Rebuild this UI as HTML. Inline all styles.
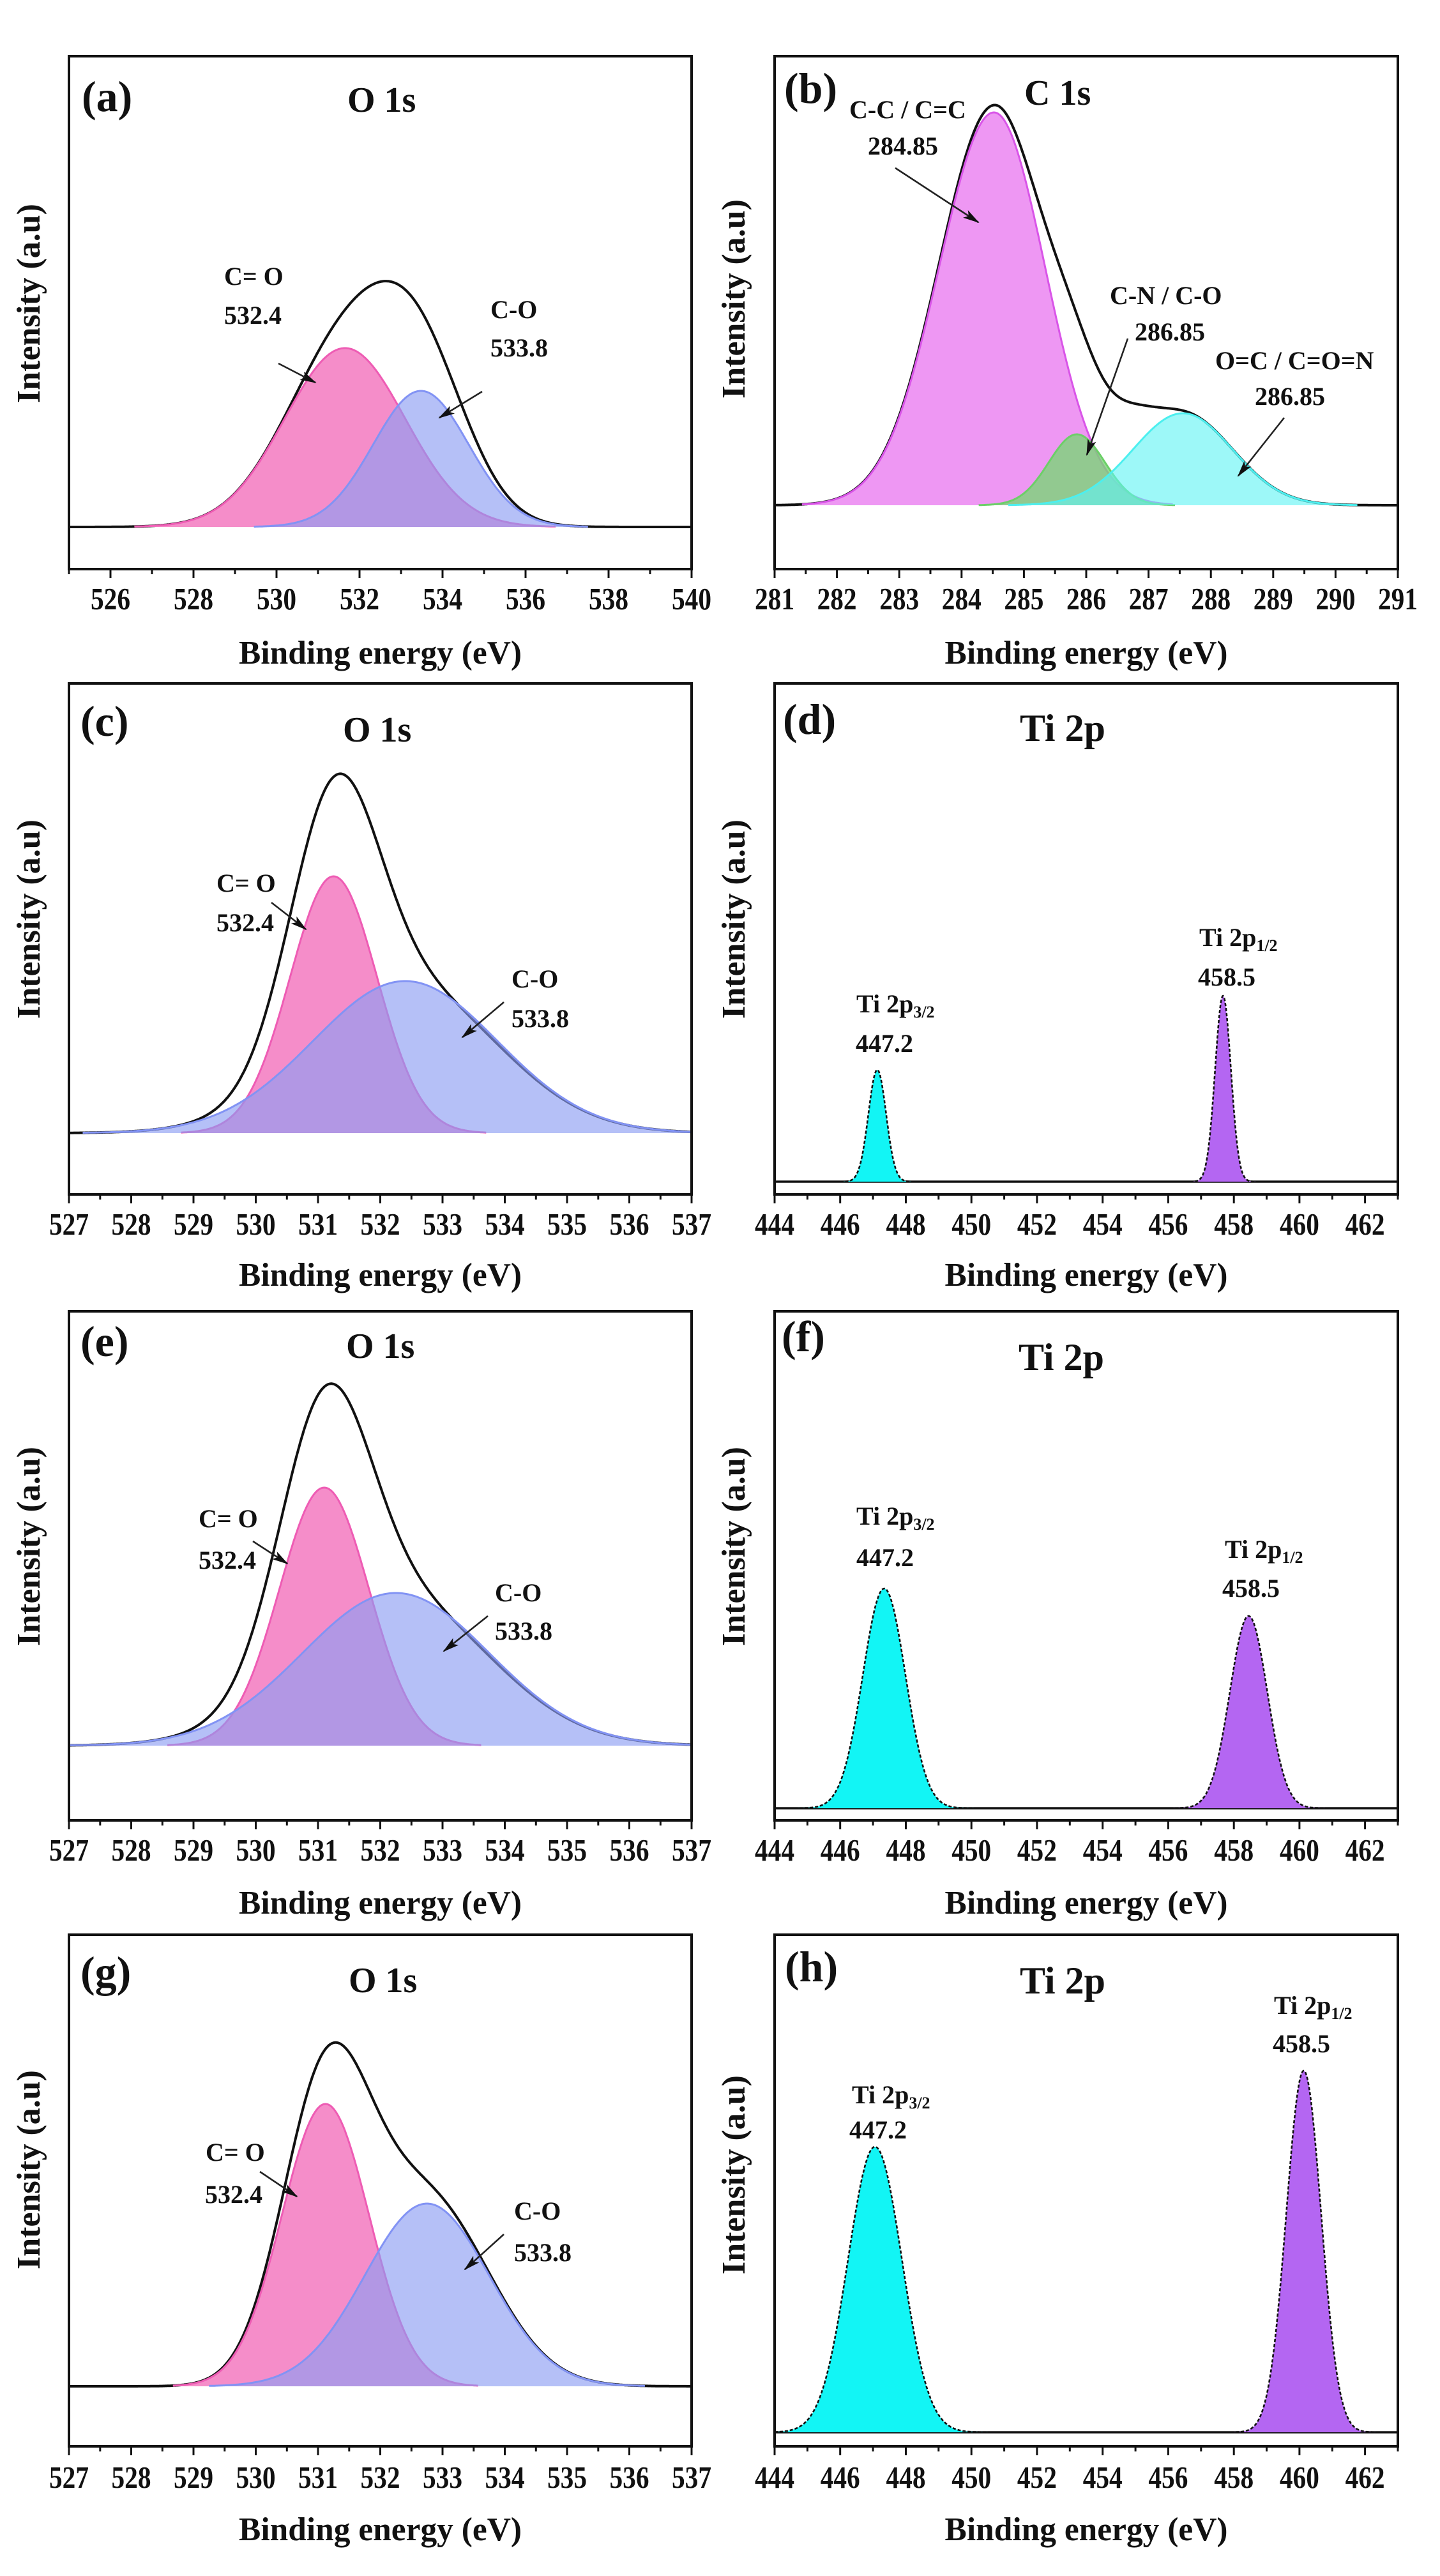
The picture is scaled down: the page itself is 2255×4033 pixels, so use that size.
<!DOCTYPE html>
<html>
<head>
<meta charset="utf-8">
<style>
  html,body{margin:0;padding:0;background:#ffffff;}
  svg{display:block;}
  text{font-family:"Liberation Serif","Times New Roman",serif;font-weight:bold;fill:#111;}
</style>
</head>
<body>
<svg id="fig" width="2255" height="4033" viewBox="0 0 2255 4033">
  <defs>
    <marker id="ah" markerWidth="26" markerHeight="14" refX="24" refY="7" orient="auto" markerUnits="userSpaceOnUse">
      <path d="M0,0 L26,7 L0,14 L6,7 z" fill="#111"/>
    </marker>
  </defs>
  <rect x="0" y="0" width="2255" height="4033" fill="#ffffff"/>
  <g id="curves"></g>

  <!-- Arrows -->
  <g stroke="#222" stroke-width="2.6" fill="none" marker-end="url(#ah)">
    <line x1="436" y1="569" x2="494" y2="599"/>
    <line x1="755" y1="613" x2="688" y2="654"/>
    <line x1="1402" y1="263" x2="1532" y2="348"/>
    <line x1="1766" y1="530" x2="1702" y2="712"/>
    <line x1="2011" y1="654" x2="1939" y2="745"/>
    <line x1="425" y1="1413" x2="479" y2="1455"/>
    <line x1="789" y1="1569" x2="724" y2="1624"/>
    <line x1="396" y1="2413" x2="450" y2="2448"/>
    <line x1="764" y1="2530" x2="695" y2="2585"/>
    <line x1="407" y1="3400" x2="465" y2="3439"/>
    <line x1="789" y1="3498" x2="728" y2="3553"/>
  </g>

  <!-- Panel letters -->
  <g font-size="68">
    <text x="128" y="174">(a)</text>
    <text x="1228" y="161">(b)</text>
    <text x="126" y="1152">(c)</text>
    <text x="1226" y="1149">(d)</text>
    <text x="126" y="2123">(e)</text>
    <text x="1224" y="2115">(f)</text>
    <text x="126" y="3110">(g)</text>
    <text x="1229" y="3102">(h)</text>
  </g>

  <!-- Titles -->
  <g font-size="56">
    <text x="544" y="175">O 1s</text>
    <text x="1604" y="164">C 1s</text>
    <text x="537" y="1161">O 1s</text>
    <text x="542" y="2126">O 1s</text>
    <text x="546" y="3119">O 1s</text>
  </g>
  <g font-size="60">
    <text x="1597" y="1160">Ti 2p</text>
    <text x="1595" y="2145">Ti 2p</text>
    <text x="1597" y="3121">Ti 2p</text>
  </g>

  <!-- Annotations -->
  <g font-size="40">
    <text x="351" y="446">C= O</text>
    <text x="351" y="507">532.4</text>
    <text x="768" y="498">C-O</text>
    <text x="768" y="558">533.8</text>

    <text x="1330" y="185">C-C / C=C</text>
    <text x="1359" y="242">284.85</text>
    <text x="1738" y="476">C-N / C-O</text>
    <text x="1777" y="533">286.85</text>
    <text x="1903" y="578">O=C / C=O=N</text>
    <text x="1965" y="634">286.85</text>

    <text x="339" y="1396">C= O</text>
    <text x="339" y="1458">532.4</text>
    <text x="801" y="1546">C-O</text>
    <text x="801" y="1608">533.8</text>

    <text x="1341" y="1585">Ti 2p<tspan font-size="26" dy="8">3/2</tspan></text>
    <text x="1340" y="1647">447.2</text>
    <text x="1878" y="1481">Ti 2p<tspan font-size="26" dy="8">1/2</tspan></text>
    <text x="1876" y="1543">458.5</text>

    <text x="311" y="2391">C= O</text>
    <text x="311" y="2456">532.4</text>
    <text x="775" y="2507">C-O</text>
    <text x="775" y="2567">533.8</text>

    <text x="1341" y="2387">Ti 2p<tspan font-size="26" dy="8">3/2</tspan></text>
    <text x="1341" y="2452">447.2</text>
    <text x="1918" y="2439">Ti 2p<tspan font-size="26" dy="8">1/2</tspan></text>
    <text x="1914" y="2500">458.5</text>

    <text x="322" y="3383">C= O</text>
    <text x="321" y="3449">532.4</text>
    <text x="805" y="3475">C-O</text>
    <text x="805" y="3540">533.8</text>

    <text x="1334" y="3293">Ti 2p<tspan font-size="26" dy="8">3/2</tspan></text>
    <text x="1330" y="3348">447.2</text>
    <text x="1995" y="3153">Ti 2p<tspan font-size="26" dy="8">1/2</tspan></text>
    <text x="1993" y="3213">458.5</text>
  </g>

  <!-- Axis titles -->
  <g font-size="52" text-anchor="middle">
    <text x="595.5" y="1039" textLength="443" lengthAdjust="spacingAndGlyphs">Binding energy (eV)</text>
    <text x="1701" y="1039" textLength="443" lengthAdjust="spacingAndGlyphs">Binding energy (eV)</text>
    <text x="595.5" y="2013" textLength="443" lengthAdjust="spacingAndGlyphs">Binding energy (eV)</text>
    <text x="1701" y="2013" textLength="443" lengthAdjust="spacingAndGlyphs">Binding energy (eV)</text>
    <text x="595.5" y="2996" textLength="443" lengthAdjust="spacingAndGlyphs">Binding energy (eV)</text>
    <text x="1701" y="2996" textLength="443" lengthAdjust="spacingAndGlyphs">Binding energy (eV)</text>
    <text x="595.5" y="3977" textLength="443" lengthAdjust="spacingAndGlyphs">Binding energy (eV)</text>
    <text x="1701" y="3977" textLength="443" lengthAdjust="spacingAndGlyphs">Binding energy (eV)</text>

    <text transform="translate(62,475) rotate(-90)" textLength="312" lengthAdjust="spacingAndGlyphs">Intensity (a.u)</text>
    <text transform="translate(1166,468) rotate(-90)" textLength="312" lengthAdjust="spacingAndGlyphs">Intensity (a.u)</text>
    <text transform="translate(62,1439) rotate(-90)" textLength="312" lengthAdjust="spacingAndGlyphs">Intensity (a.u)</text>
    <text transform="translate(1166,1439) rotate(-90)" textLength="312" lengthAdjust="spacingAndGlyphs">Intensity (a.u)</text>
    <text transform="translate(62,2421) rotate(-90)" textLength="312" lengthAdjust="spacingAndGlyphs">Intensity (a.u)</text>
    <text transform="translate(1166,2421) rotate(-90)" textLength="312" lengthAdjust="spacingAndGlyphs">Intensity (a.u)</text>
    <text transform="translate(62,3397) rotate(-90)" textLength="312" lengthAdjust="spacingAndGlyphs">Intensity (a.u)</text>
    <text transform="translate(1166,3405) rotate(-90)" textLength="312" lengthAdjust="spacingAndGlyphs">Intensity (a.u)</text>
  </g>

  <!-- Tick labels -->
  <g font-size="49" text-anchor="middle">
    <!-- (a) -->
    <text x="173" y="954" textLength="62" lengthAdjust="spacingAndGlyphs">526</text>
    <text x="303" y="954" textLength="62" lengthAdjust="spacingAndGlyphs">528</text>
    <text x="433" y="954" textLength="62" lengthAdjust="spacingAndGlyphs">530</text>
    <text x="563" y="954" textLength="62" lengthAdjust="spacingAndGlyphs">532</text>
    <text x="693" y="954" textLength="62" lengthAdjust="spacingAndGlyphs">534</text>
    <text x="823" y="954" textLength="62" lengthAdjust="spacingAndGlyphs">536</text>
    <text x="953" y="954" textLength="62" lengthAdjust="spacingAndGlyphs">538</text>
    <text x="1083" y="954" textLength="62" lengthAdjust="spacingAndGlyphs">540</text>
    <!-- (b) -->
    <text x="1213" y="954" textLength="62" lengthAdjust="spacingAndGlyphs">281</text>
    <text x="1310.6" y="954" textLength="62" lengthAdjust="spacingAndGlyphs">282</text>
    <text x="1408.2" y="954" textLength="62" lengthAdjust="spacingAndGlyphs">283</text>
    <text x="1505.8" y="954" textLength="62" lengthAdjust="spacingAndGlyphs">284</text>
    <text x="1603.4" y="954" textLength="62" lengthAdjust="spacingAndGlyphs">285</text>
    <text x="1701" y="954" textLength="62" lengthAdjust="spacingAndGlyphs">286</text>
    <text x="1798.6" y="954" textLength="62" lengthAdjust="spacingAndGlyphs">287</text>
    <text x="1896.2" y="954" textLength="62" lengthAdjust="spacingAndGlyphs">288</text>
    <text x="1993.8" y="954" textLength="62" lengthAdjust="spacingAndGlyphs">289</text>
    <text x="2091.4" y="954" textLength="62" lengthAdjust="spacingAndGlyphs">290</text>
    <text x="2189" y="954" textLength="62" lengthAdjust="spacingAndGlyphs">291</text>
    <!-- (c) -->
    <text x="108" y="1933" textLength="62" lengthAdjust="spacingAndGlyphs">527</text>
    <text x="205.5" y="1933" textLength="62" lengthAdjust="spacingAndGlyphs">528</text>
    <text x="303" y="1933" textLength="62" lengthAdjust="spacingAndGlyphs">529</text>
    <text x="400.5" y="1933" textLength="62" lengthAdjust="spacingAndGlyphs">530</text>
    <text x="498" y="1933" textLength="62" lengthAdjust="spacingAndGlyphs">531</text>
    <text x="595.5" y="1933" textLength="62" lengthAdjust="spacingAndGlyphs">532</text>
    <text x="693" y="1933" textLength="62" lengthAdjust="spacingAndGlyphs">533</text>
    <text x="790.5" y="1933" textLength="62" lengthAdjust="spacingAndGlyphs">534</text>
    <text x="888" y="1933" textLength="62" lengthAdjust="spacingAndGlyphs">535</text>
    <text x="985.5" y="1933" textLength="62" lengthAdjust="spacingAndGlyphs">536</text>
    <text x="1083" y="1933" textLength="62" lengthAdjust="spacingAndGlyphs">537</text>
    <!-- (d) -->
    <text x="1213" y="1933" textLength="62" lengthAdjust="spacingAndGlyphs">444</text>
    <text x="1315.7" y="1933" textLength="62" lengthAdjust="spacingAndGlyphs">446</text>
    <text x="1418.5" y="1933" textLength="62" lengthAdjust="spacingAndGlyphs">448</text>
    <text x="1521.2" y="1933" textLength="62" lengthAdjust="spacingAndGlyphs">450</text>
    <text x="1623.9" y="1933" textLength="62" lengthAdjust="spacingAndGlyphs">452</text>
    <text x="1726.7" y="1933" textLength="62" lengthAdjust="spacingAndGlyphs">454</text>
    <text x="1829.4" y="1933" textLength="62" lengthAdjust="spacingAndGlyphs">456</text>
    <text x="1932.2" y="1933" textLength="62" lengthAdjust="spacingAndGlyphs">458</text>
    <text x="2034.9" y="1933" textLength="62" lengthAdjust="spacingAndGlyphs">460</text>
    <text x="2137.6" y="1933" textLength="62" lengthAdjust="spacingAndGlyphs">462</text>
    <!-- (e) -->
    <text x="108" y="2913" textLength="62" lengthAdjust="spacingAndGlyphs">527</text>
    <text x="205.5" y="2913" textLength="62" lengthAdjust="spacingAndGlyphs">528</text>
    <text x="303" y="2913" textLength="62" lengthAdjust="spacingAndGlyphs">529</text>
    <text x="400.5" y="2913" textLength="62" lengthAdjust="spacingAndGlyphs">530</text>
    <text x="498" y="2913" textLength="62" lengthAdjust="spacingAndGlyphs">531</text>
    <text x="595.5" y="2913" textLength="62" lengthAdjust="spacingAndGlyphs">532</text>
    <text x="693" y="2913" textLength="62" lengthAdjust="spacingAndGlyphs">533</text>
    <text x="790.5" y="2913" textLength="62" lengthAdjust="spacingAndGlyphs">534</text>
    <text x="888" y="2913" textLength="62" lengthAdjust="spacingAndGlyphs">535</text>
    <text x="985.5" y="2913" textLength="62" lengthAdjust="spacingAndGlyphs">536</text>
    <text x="1083" y="2913" textLength="62" lengthAdjust="spacingAndGlyphs">537</text>
    <!-- (f) -->
    <text x="1213" y="2913" textLength="62" lengthAdjust="spacingAndGlyphs">444</text>
    <text x="1315.7" y="2913" textLength="62" lengthAdjust="spacingAndGlyphs">446</text>
    <text x="1418.5" y="2913" textLength="62" lengthAdjust="spacingAndGlyphs">448</text>
    <text x="1521.2" y="2913" textLength="62" lengthAdjust="spacingAndGlyphs">450</text>
    <text x="1623.9" y="2913" textLength="62" lengthAdjust="spacingAndGlyphs">452</text>
    <text x="1726.7" y="2913" textLength="62" lengthAdjust="spacingAndGlyphs">454</text>
    <text x="1829.4" y="2913" textLength="62" lengthAdjust="spacingAndGlyphs">456</text>
    <text x="1932.2" y="2913" textLength="62" lengthAdjust="spacingAndGlyphs">458</text>
    <text x="2034.9" y="2913" textLength="62" lengthAdjust="spacingAndGlyphs">460</text>
    <text x="2137.6" y="2913" textLength="62" lengthAdjust="spacingAndGlyphs">462</text>
    <!-- (g) -->
    <text x="108" y="3895" textLength="62" lengthAdjust="spacingAndGlyphs">527</text>
    <text x="205.5" y="3895" textLength="62" lengthAdjust="spacingAndGlyphs">528</text>
    <text x="303" y="3895" textLength="62" lengthAdjust="spacingAndGlyphs">529</text>
    <text x="400.5" y="3895" textLength="62" lengthAdjust="spacingAndGlyphs">530</text>
    <text x="498" y="3895" textLength="62" lengthAdjust="spacingAndGlyphs">531</text>
    <text x="595.5" y="3895" textLength="62" lengthAdjust="spacingAndGlyphs">532</text>
    <text x="693" y="3895" textLength="62" lengthAdjust="spacingAndGlyphs">533</text>
    <text x="790.5" y="3895" textLength="62" lengthAdjust="spacingAndGlyphs">534</text>
    <text x="888" y="3895" textLength="62" lengthAdjust="spacingAndGlyphs">535</text>
    <text x="985.5" y="3895" textLength="62" lengthAdjust="spacingAndGlyphs">536</text>
    <text x="1083" y="3895" textLength="62" lengthAdjust="spacingAndGlyphs">537</text>
    <!-- (h) -->
    <text x="1213" y="3895" textLength="62" lengthAdjust="spacingAndGlyphs">444</text>
    <text x="1315.7" y="3895" textLength="62" lengthAdjust="spacingAndGlyphs">446</text>
    <text x="1418.5" y="3895" textLength="62" lengthAdjust="spacingAndGlyphs">448</text>
    <text x="1521.2" y="3895" textLength="62" lengthAdjust="spacingAndGlyphs">450</text>
    <text x="1623.9" y="3895" textLength="62" lengthAdjust="spacingAndGlyphs">452</text>
    <text x="1726.7" y="3895" textLength="62" lengthAdjust="spacingAndGlyphs">454</text>
    <text x="1829.4" y="3895" textLength="62" lengthAdjust="spacingAndGlyphs">456</text>
    <text x="1932.2" y="3895" textLength="62" lengthAdjust="spacingAndGlyphs">458</text>
    <text x="2034.9" y="3895" textLength="62" lengthAdjust="spacingAndGlyphs">460</text>
    <text x="2137.6" y="3895" textLength="62" lengthAdjust="spacingAndGlyphs">462</text>
  </g>
</svg>

<script>
(function(){
  var PINK=['#f58dc9','#ee5cb4'], BLUE=['rgba(140,156,242,0.64)','#8293f4'];
  var MAG=['#ee97f3','#d955e8'], GRN=['rgba(120,215,115,0.78)','#6ccf68'], CYN=['rgba(97,243,243,0.62)','#4cefef'];
  var TC=['#12f5f5','#111'], TP=['#b466f2','#111'];
  var L=108, R=1083, L2=1213, R2=2189;
  var P=[
    {x0:L,x1:R,e0:525,e1:540,top:88,bot:891,b:825,ms:2,m0:526,t:'o',k:1,
     c:[[531.65,280,1.45,1.45,PINK],[533.48,213,1.15,1.15,BLUE]]},
    {x0:L2,x1:R2,e0:281,e1:291,top:88,bot:891,b:791,ms:1,m0:281,t:'o',k:1,
     c:[[284.52,615,0.88,0.82,MAG],[285.85,111,0.45,0.45,GRN],[287.55,144,0.8,0.8,CYN]],
     x:[[286.7,42,0.38,0.38],[284.6,10,0.9,0.9]]},
    {x0:L,x1:R,e0:527,e1:537,top:1070,bot:1870,b:1774,ms:1,m0:527,t:'o',k:0.965,
     c:[[531.25,402,0.7,0.7,PINK],[532.4,238,1.48,1.48,BLUE]]},
    {x0:L2,x1:R2,e0:444,e1:463,top:1070,bot:1870,b:1850,ms:2,m0:444,t:'t',
     c:[[447.13,175,0.27,0.27,TC],[457.67,291,0.24,0.24,TP]]},
    {x0:L,x1:R,e0:527,e1:537,top:2053,bot:2850,b:2733,ms:1,m0:527,t:'o',k:0.965,
     c:[[531.1,404,0.72,0.72,PINK],[532.25,239,1.5,1.5,BLUE]]},
    {x0:L2,x1:R2,e0:444,e1:463,top:2053,bot:2850,b:2831,ms:2,m0:444,t:'t',
     c:[[447.34,344,0.65,0.65,TC],[458.45,301,0.57,0.57,TP]]},
    {x0:L,x1:R,e0:527,e1:537,top:3029,bot:3830,b:3736,ms:1,m0:527,t:'o',k:1.02,
     c:[[531.12,442,0.7,0.7,PINK],[532.75,286,1.0,1.0,BLUE]]},
    {x0:L2,x1:R2,e0:444,e1:463,top:3029,bot:3830,b:3808,ms:2,m0:444,t:'t',
     c:[[447.06,447,0.82,0.82,TC],[460.13,566,0.53,0.53,TP]]}
  ];
  function X(p,e){return p.x0+(e-p.e0)/(p.e1-p.e0)*(p.x1-p.x0);}
  function g(e,c){var s=e<c[0]?c[2]:c[3];var d=e-c[0];return c[1]*Math.exp(-d*d/(2*s*s));}
  var out='';
  P.forEach(function(p){
    var N=900,i,e,y,d;
    if(p.t==='o'){
      d='';
      for(i=0;i<=N;i++){
        e=p.e0+(p.e1-p.e0)*i/N; var s=0;
        p.c.forEach(function(c){s+=g(e,c);});
        if(p.x){p.x.forEach(function(c){s+=g(e,c);});}
        y=p.b-p.k*s;
        d+=(i?'L':'M')+X(p,e).toFixed(1)+','+y.toFixed(1);
      }
      out+='<path d="'+d+'" fill="none" stroke="#111" stroke-width="4" stroke-linejoin="round"/>';
    } else {
      out+='<line x1="'+p.x0+'" y1="'+p.b+'" x2="'+p.x1+'" y2="'+p.b+'" stroke="#111" stroke-width="3.5"/>';
    }
    var Rg = p.t==='o'?3.5:4.2;
    p.c.forEach(function(c){
      var lo=Math.max(p.e0,c[0]-Rg*c[2]), hi=Math.min(p.e1,c[0]+Rg*c[3]);
      var M=400, cd='';
      for(var j=0;j<=M;j++){
        var ee=lo+(hi-lo)*j/M;
        var yy=p.b-g(ee,c);
        cd+=(j?'L':'M')+X(p,ee).toFixed(1)+','+yy.toFixed(1);
      }
      var fd=cd+'L'+X(p,hi).toFixed(1)+','+p.b+'L'+X(p,lo).toFixed(1)+','+p.b+'Z';
      out+='<path d="'+fd+'" fill="'+c[4][0]+'" stroke="none"/>';
      if(p.t==='o'){
        out+='<path d="'+cd+'" fill="none" stroke="'+c[4][1]+'" stroke-width="3"/>';
      } else {
        out+='<path d="'+cd+'" fill="none" stroke="#111" stroke-width="2.6" stroke-dasharray="5 3"/>';
      }
    });
    out+='<rect x="'+p.x0+'" y="'+p.top+'" width="'+(p.x1-p.x0)+'" height="'+(p.bot-p.top)+'" fill="none" stroke="#111" stroke-width="4"/>';
    var step=p.ms/2;
    for(e=p.e0;e<=p.e1+1e-6;e+=step){
      var r=(e-p.m0)/p.ms;
      var major=Math.abs(r-Math.round(r))<1e-6;
      var x=X(p,e).toFixed(1);
      var len=major?14:8;
      out+='<line x1="'+x+'" y1="'+p.bot+'" x2="'+x+'" y2="'+(p.bot+len)+'" stroke="#111" stroke-width="3"/>';
    }
  });
  document.getElementById('curves').innerHTML=out;
})();
</script>
</body>
</html>
